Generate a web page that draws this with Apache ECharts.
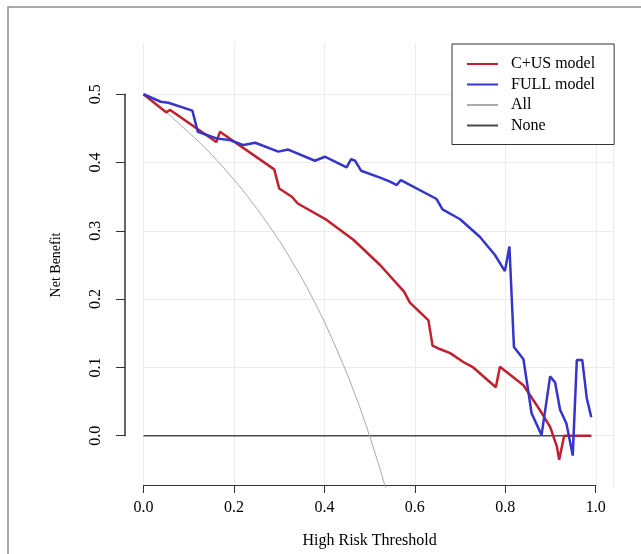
<!DOCTYPE html>
<html style="height: 100%">
<head>
    <meta charset="UTF-8" />
    <title>Net Benefit</title>
    <script src="https://cdn.jsdelivr.net/npm/echarts@6/dist/echarts.min.js"></script>
</head>
<body style="height: 100%; margin: 0; background: #fff">
    <div id="main" style="width: 641px; height: 554px; margin: 0"></div>
    <script type="text/javascript">

        // thresholds and net benefit
        var redX = [0, 0.05, 0.059, 0.161, 0.169, 0.289, 0.300, 0.328, 0.341, 0.405, 0.464, 0.523, 0.576, 0.589, 0.630, 0.639, 0.655, 0.678, 0.707, 0.729, 0.779, 0.788, 0.840, 0.877, 0.899, 0.914, 0.919, 0.930, 0.99];
        var redY = [0.5, 0.4735, 0.477, 0.430, 0.445, 0.390, 0.362, 0.350, 0.340, 0.316, 0.287, 0.250, 0.211, 0.195, 0.169, 0.132, 0.127, 0.121, 0.108, 0.100, 0.071, 0.101, 0.074, 0.037, 0.013, -0.016, -0.035, 0, 0];

        var blueX = [0, 0.038, 0.055, 0.108, 0.120, 0.163, 0.191, 0.221, 0.247, 0.298, 0.320, 0.379, 0.401, 0.449, 0.459, 0.468, 0.481, 0.523, 0.545, 0.560, 0.569, 0.648, 0.661, 0.700, 0.744, 0.777, 0.799, 0.809, 0.819, 0.840, 0.858, 0.880, 0.899, 0.910, 0.921, 0.935, 0.949, 0.958, 0.970, 0.980, 0.990];
        var blueY = [0.5, 0.489, 0.4875, 0.476, 0.445, 0.435, 0.433, 0.4256, 0.429, 0.416, 0.419, 0.4026, 0.4085, 0.393, 0.405, 0.4026, 0.388, 0.378, 0.372, 0.367, 0.3744, 0.3466, 0.3315, 0.317, 0.291, 0.2646, 0.241, 0.277, 0.130, 0.112, 0.033, 0.001, 0.087, 0.078, 0.038, 0.018, -0.029, 0.111, 0.111, 0.055, 0.027];

        var allX = [0, 0.025, 0.05, 0.075, 0.1, 0.125, 0.15, 0.175, 0.2, 0.225, 0.25, 0.275, 0.3, 0.325, 0.35, 0.375, 0.4, 0.425, 0.45, 0.475, 0.5, 0.525, 0.55];
        var allY = [0.5, 0.487, 0.474, 0.459, 0.444, 0.429, 0.412, 0.394, 0.375, 0.355, 0.333, 0.310, 0.286, 0.259, 0.231, 0.200, 0.167, 0.130, 0.091, 0.048, 0, -0.053, -0.111];

        var noneX = [0, 0.99];
        var noneY = [0, 0];

        var names = ['C+US model', 'FULL model', 'All', 'None'];

        function pairs(xs, ys) {
            return xs.map(function (x, i) { return [x, ys[i]]; });
        }

        var font = 'Liberation Serif';
        var axisColor = '#333';
        var gridColor = '#ececec';
        var fmt = function (v) { return v.toFixed(1); };

        var chart = echarts.init(document.getElementById('main'));

        var option = {
            animation: false,
            backgroundColor: '#fff',
            textStyle: { fontFamily: font, color: '#000' },
            graphic: [{
                type: 'polyline',
                shape: { points: [[8, 554], [8, 7], [641, 7]] },
                style: { stroke: '#8c8c8c', lineWidth: 1.5, fill: null },
                silent: true
            }],
            grid: [
                // plotting area
                { left: 143.5, top: 43, width: 469.5, height: 444 },
                // horizontal grid lines
                { left: 143.5, top: 94.2, width: 469.5, height: 341.5 },
                // x axis
                { left: 143.5, top: 43, width: 452.2, height: 444 },
                // y axis, set apart from the plot
                { left: 125, top: 94.2, width: 10, height: 341.5 }
            ],
            xAxis: [
                {
                    gridIndex: 0, type: 'value', min: 0, max: 1.038, interval: 0.2,
                    axisLine: { show: false, onZero: false }, axisTick: { show: false }, axisLabel: { show: false },
                    splitLine: { show: true, lineStyle: { color: gridColor, width: 1 } }
                },
                {
                    gridIndex: 1, type: 'value', min: 0, max: 1, show: false,
                    axisLine: { onZero: false }
                },
                {
                    gridIndex: 2, type: 'value', min: 0, max: 1, interval: 0.2, position: 'bottom',
                    axisLine: { show: true, onZero: false, lineStyle: { color: axisColor, width: 1 } },
                    axisTick: { show: true, inside: false, length: 8, lineStyle: { color: axisColor } },
                    axisLabel: { formatter: fmt, margin: 15, fontSize: 16, fontFamily: font, color: '#000' },
                    splitLine: { show: false },
                    name: 'High Risk Threshold', nameLocation: 'middle', nameGap: 48,
                    nameTextStyle: { fontSize: 16, fontFamily: font, color: '#000' }
                },
                {
                    gridIndex: 3, type: 'value', min: 0, max: 1, show: false,
                    axisLine: { onZero: false }
                }
            ],
            yAxis: [
                {
                    gridIndex: 0, type: 'value', min: -0.075, max: 0.575, show: false,
                    axisLine: { onZero: false }
                },
                {
                    gridIndex: 1, type: 'value', min: 0, max: 0.5, interval: 0.1,
                    axisLine: { show: false, onZero: false }, axisTick: { show: false }, axisLabel: { show: false },
                    splitLine: { show: true, lineStyle: { color: gridColor, width: 1 } }
                },
                {
                    gridIndex: 2, type: 'value', min: 0, max: 1, show: false,
                    axisLine: { onZero: false }
                },
                {
                    gridIndex: 3, type: 'value', min: 0, max: 0.5, interval: 0.1, position: 'left',
                    axisLine: { show: true, onZero: false, lineStyle: { color: axisColor, width: 1.5 } },
                    axisTick: { show: true, inside: false, length: 9, lineStyle: { color: axisColor } },
                    axisLabel: { formatter: fmt, rotate: 90, margin: 21, fontSize: 16, fontFamily: font, color: '#000' },
                    splitLine: { show: false },
                    name: 'Net Benefit', nameLocation: 'middle', nameGap: 62,
                    nameTextStyle: { fontSize: 14, fontFamily: font, color: '#000' }
                }
            ],
            legend: {
                data: names,
                orient: 'vertical',
                left: 452,
                top: 44,
                padding: [12, 19, 11, 14],
                itemWidth: 31,
                itemHeight: 14,
                itemGap: 4.5,
                backgroundColor: '#fff',
                borderColor: '#333',
                borderWidth: 1,
                borderRadius: 0,
                selectedMode: false,
                itemStyle: { opacity: 0 },
                textStyle: { fontSize: 16, fontFamily: font, color: '#000', lineHeight: 16, padding: [0, 0, 0, 8] },
                z: 10
            },
            series: [
                {
                    name: 'None', type: 'line', xAxisIndex: 0, yAxisIndex: 0, symbol: 'none',
                    lineStyle: { color: '#4a4a4a', width: 1.5 }, itemStyle: { color: '#4a4a4a' },
                    data: pairs(noneX, noneY)
                },
                {
                    name: 'All', type: 'line', xAxisIndex: 0, yAxisIndex: 0, symbol: 'none',
                    lineStyle: { color: '#aaaaaa', width: 1 }, itemStyle: { color: '#aaaaaa' },
                    data: pairs(allX, allY)
                },
                {
                    name: 'C+US model', type: 'line', xAxisIndex: 0, yAxisIndex: 0, symbol: 'none',
                    lineStyle: { color: '#C1202E', width: 2.5 }, itemStyle: { color: '#C1202E' },
                    data: pairs(redX, redY)
                },
                {
                    name: 'FULL model', type: 'line', xAxisIndex: 0, yAxisIndex: 0, symbol: 'none',
                    lineStyle: { color: '#3535CC', width: 2.5 }, itemStyle: { color: '#3535CC' },
                    data: pairs(blueX, blueY)
                }
            ]
        };

        chart.setOption(option);

    </script>
</body>
</html>
